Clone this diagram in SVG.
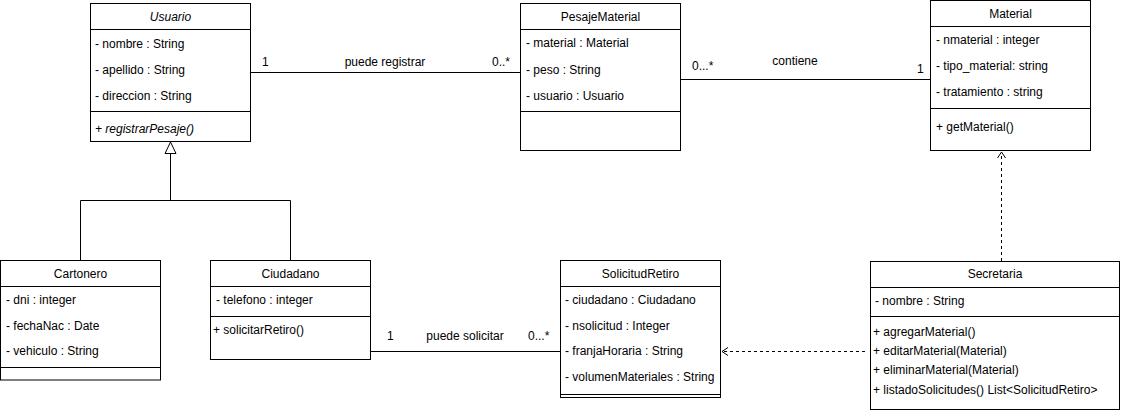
<svg xmlns="http://www.w3.org/2000/svg" width="1121" height="411" viewBox="0 0 1121 411">
<style>
.box{fill:#fff;stroke:#000;stroke-width:1}
.ln{stroke:#000;stroke-width:1;fill:none}
.dash{stroke:#000;stroke-width:1;fill:none;stroke-dasharray:3,3}
text{font-family:"Liberation Sans",Arial,sans-serif;font-size:12px;fill:#000}
.t{text-anchor:middle}
.i{font-style:italic}
</style>
<rect width="1121" height="411" fill="#fff"/>
<g id="Usuario">
<rect class="box" x="90.5" y="3.5" width="160" height="138"/>
<line class="ln" x1="90.5" y1="29.5" x2="250.5" y2="29.5"/>
<line class="ln" x1="90.5" y1="111.5" x2="250.5" y2="111.5"/>
<text class="t i" x="170.5" y="21">Usuario</text>
<text x="95" y="47.5">- nombre : String</text>
<text x="95" y="73.5">- apellido : String</text>
<text x="95" y="99.5">- direccion : String</text>
<text class="i" x="95" y="133">+ registrarPesaje()</text>
</g>
<g id="PesajeMaterial">
<rect class="box" x="520.5" y="3.5" width="160" height="147"/>
<line class="ln" x1="520.5" y1="29.5" x2="680.5" y2="29.5"/>
<line class="ln" x1="520.5" y1="111.5" x2="680.5" y2="111.5"/>
<text class="t" x="600.5" y="21">PesajeMaterial</text>
<text x="526" y="47">- material : Material</text>
<text x="526" y="73.5">- peso : String</text>
<text x="526" y="100">- usuario : Usuario</text>
</g>
<g id="Material">
<rect class="box" x="930.5" y="0.5" width="160" height="150"/>
<line class="ln" x1="930.5" y1="26.5" x2="1090.5" y2="26.5"/>
<line class="ln" x1="930.5" y1="108.5" x2="1090.5" y2="108.5"/>
<text class="t" x="1010.5" y="18">Material</text>
<text x="936" y="44">- nmaterial : integer</text>
<text x="936" y="70">- tipo_material: string</text>
<text x="936" y="96">- tratamiento : string</text>
<text x="936" y="131">+ getMaterial()</text>
</g>
<g id="Cartonero">
<rect class="box" x="0.5" y="260.5" width="160" height="119.5"/>
<line class="ln" x1="0.5" y1="286.5" x2="160.5" y2="286.5"/>
<line class="ln" x1="0.5" y1="367.5" x2="160.5" y2="367.5"/>
<text class="t" x="80.5" y="278">Cartonero</text>
<text x="6" y="304">- dni : integer</text>
<text x="6" y="330">- fechaNac : Date</text>
<text x="6" y="355">- vehiculo : String</text>
</g>
<g id="Ciudadano">
<rect class="box" x="210.5" y="260.5" width="160" height="99"/>
<line class="ln" x1="210.5" y1="286.5" x2="370.5" y2="286.5"/>
<line class="ln" x1="210.5" y1="316.5" x2="370.5" y2="316.5"/>
<text class="t" x="290.5" y="278">Ciudadano</text>
<text x="216" y="304">- telefono : integer</text>
<text x="213" y="334">+ solicitarRetiro()</text>
</g>
<g id="SolicitudRetiro">
<rect class="box" x="560.5" y="260.5" width="160" height="137"/>
<line class="ln" x1="560.5" y1="286.5" x2="720.5" y2="286.5"/>
<line class="ln" x1="560.5" y1="394.5" x2="720.5" y2="394.5"/>
<text class="t" x="640.5" y="278">SolicitudRetiro</text>
<text x="565" y="304">- ciudadano : Ciudadano</text>
<text x="565" y="330">- nsolicitud : Integer</text>
<text x="565" y="355">- franjaHoraria : String</text>
<text x="565" y="381">- volumenMateriales : String</text>
</g>
<g id="Secretaria">
<rect class="box" x="870.5" y="261.5" width="249" height="148"/>
<line class="ln" x1="870.5" y1="287.5" x2="1119.5" y2="287.5"/>
<line class="ln" x1="870.5" y1="316.5" x2="1119.5" y2="316.5"/>
<text class="t" x="995" y="278">Secretaria</text>
<text x="875" y="305">- nombre : String</text>
<text x="873" y="336">+ agregarMaterial()</text>
<text x="873" y="355">+ editarMaterial(Material)</text>
<text x="873" y="374">+ eliminarMaterial(Material)</text>
<text x="873" y="393.5">+ listadoSolicitudes() List&lt;SolicitudRetiro&gt;</text>
</g>
<g id="connectors">
<polygon points="170.5,142 165,153.5 176,153.5" fill="#fff" stroke="#000"/>
<polyline class="ln" points="170.5,153.5 170.5,200.5"/>
<polyline class="ln" points="80.5,260.5 80.5,200.5 290.5,200.5 290.5,260.5"/>
<line class="ln" x1="250.5" y1="72.5" x2="520.5" y2="72.5"/>
<text x="262" y="66">1</text>
<text class="t" x="385" y="66">puede registrar</text>
<text x="492" y="66">0..*</text>
<line class="ln" x1="680.5" y1="79.5" x2="930.5" y2="79.5"/>
<text x="692" y="70">0...*</text>
<text class="t" x="795" y="65">contiene</text>
<text x="917" y="73">1</text>
<line class="ln" x1="370.5" y1="351.5" x2="560.5" y2="351.5"/>
<text x="387" y="340">1</text>
<text class="t" x="465" y="340">puede solicitar</text>
<text x="528" y="340">0...*</text>
<line class="dash" x1="1001.5" y1="261" x2="1001.5" y2="153"/>
<polyline class="ln" points="997.5,158 1001.5,152 1005.5,158"/>
<line class="dash" x1="865" y1="351.5" x2="723" y2="351.5"/>
<polyline class="ln" points="728,347.5 722,351.5 728,355.5"/>
</g>
</svg>
